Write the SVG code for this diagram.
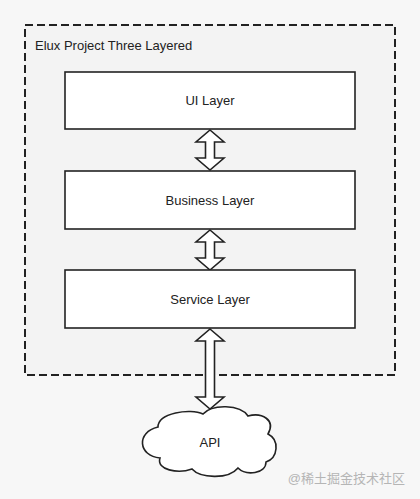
<svg xmlns="http://www.w3.org/2000/svg" width="420" height="499" viewBox="0 0 420 499">
<style>
.box{fill:#ffffff;stroke:#222222;stroke-width:1.6}
.lbl{font-family:"Liberation Sans",Arial,sans-serif;font-size:13px;fill:#222222;text-anchor:middle}
.arr{fill:#ffffff;stroke:#222222;stroke-width:1.6;stroke-linejoin:miter}
</style>
<rect x="0" y="0" width="420" height="499" fill="#f7f7f7"/>
<g id="container">
<rect x="25" y="25" width="370" height="350" fill="#f3f3f3" stroke="#222222" stroke-width="2" stroke-dasharray="8 4"/>
<text x="35" y="50" font-family="'Liberation Sans',Arial,sans-serif" font-size="13" fill="#222222">Elux Project Three Layered</text>
</g>
<g id="connectors">
<polygon class="arr" points="210,130 224,142 214.5,142 214.5,158 224,158 210,170 196,158 205.5,158 205.5,142 196,142"/>
<polygon class="arr" points="210,230 224,242 214.5,242 214.5,258 224,258 210,270 196,258 205.5,258 205.5,242 196,242"/>
<polygon class="arr" points="210,329 224,341 214.5,341 214.5,397 224,397 210,409 196,397 205.5,397 205.5,341 196,341"/>
</g>
<g id="ui">
<rect class="box" x="65" y="72" width="290" height="57"/>
<text class="lbl" x="210" y="105">UI Layer</text>
</g>
<g id="business">
<rect class="box" x="65" y="171" width="290" height="58"/>
<text class="lbl" x="210" y="205">Business Layer</text>
</g>
<g id="service">
<rect class="box" x="65" y="270" width="290" height="58"/>
<text class="lbl" x="210" y="304">Service Layer</text>
</g>
<g id="api">
<path d="M158,427 C158,413 190,408 203,414 C212,404 240,404 248,416 C262,412 276,420 268,434 C280,440 278,458 266,462 C266,474 246,476 238,468 C228,480 200,478 192,469 C178,474 156,470 160,458 C138,456 136,432 158,427 Z" fill="#ffffff" stroke="#222222" stroke-width="1.6"/>
<text class="lbl" x="210" y="447">API</text>
</g>
<text x="405" y="483" text-anchor="end" font-family="'Liberation Sans','Noto Sans CJK SC',sans-serif" font-size="13" fill="#b5b5b5">@稀土掘金技术社区</text>
</svg>
